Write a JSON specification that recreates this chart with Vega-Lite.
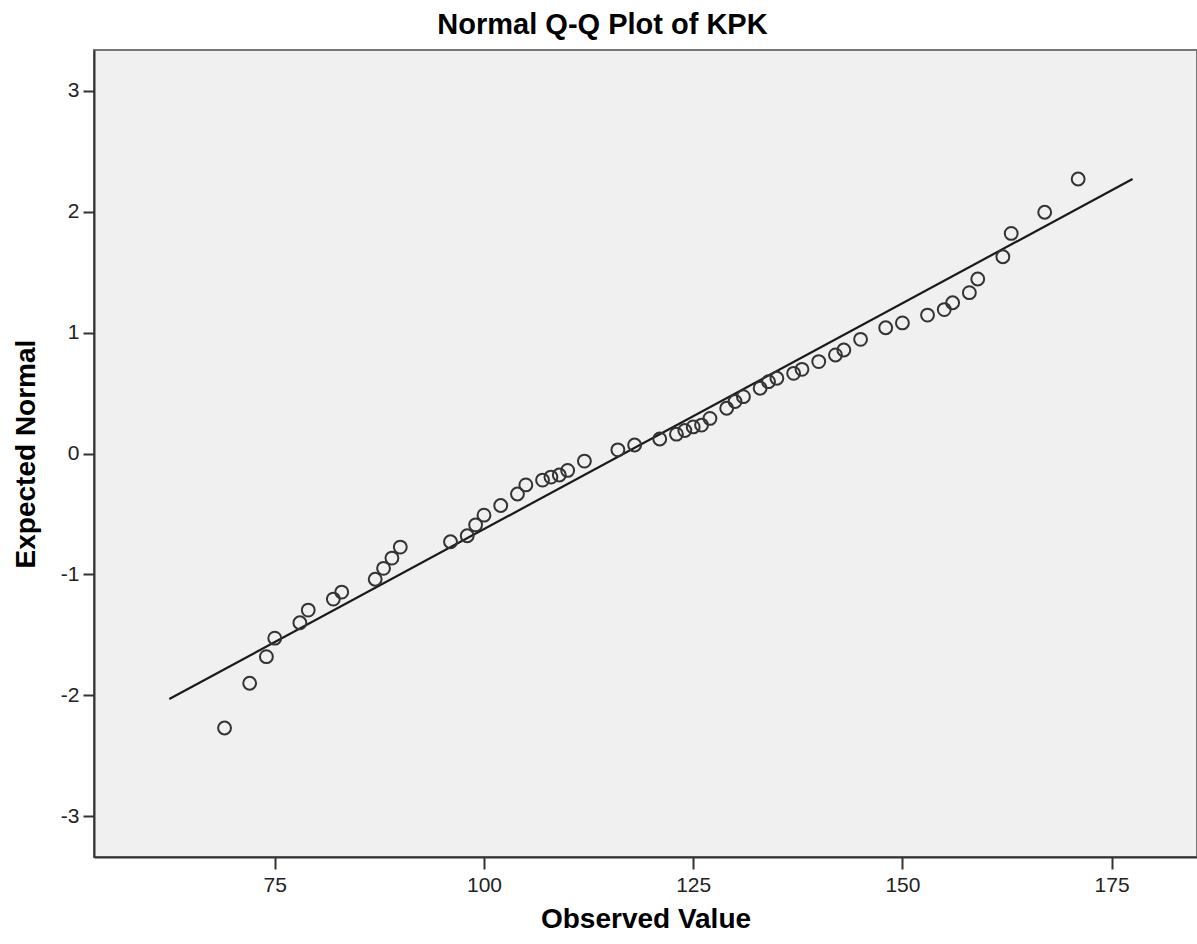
{
  "$schema": "https://vega.github.io/schema/vega-lite/v6.json",
  "width": 1103,
  "height": 807,
  "autosize": {"type": "none"},
  "padding": {"left": 94, "top": 50, "right": 0, "bottom": 87},
  "background": "white",
  "config": {
    "font": "Liberation Sans",
    "view": {"fill": "#f0f0f0", "stroke": "#777", "strokeWidth": 2}
  },
  "title": {
    "text": "Normal Q-Q Plot of KPK",
    "fontSize": 29,
    "fontWeight": "bold",
    "color": "#000",
    "anchor": "middle",
    "dx": -43,
    "offset": 10
  },
  "datasets": {
    "points": [
      {"observed": 69, "expected": -2.27},
      {"observed": 72, "expected": -1.90},
      {"observed": 74, "expected": -1.68},
      {"observed": 75, "expected": -1.527},
      {"observed": 78, "expected": -1.40},
      {"observed": 79, "expected": -1.295},
      {"observed": 82, "expected": -1.204},
      {"observed": 83, "expected": -1.146},
      {"observed": 87, "expected": -1.04},
      {"observed": 88, "expected": -0.95},
      {"observed": 89, "expected": -0.865},
      {"observed": 90, "expected": -0.774},
      {"observed": 96, "expected": -0.73},
      {"observed": 98, "expected": -0.68},
      {"observed": 99, "expected": -0.59},
      {"observed": 100, "expected": -0.51},
      {"observed": 102, "expected": -0.43},
      {"observed": 104, "expected": -0.335},
      {"observed": 105, "expected": -0.26},
      {"observed": 107, "expected": -0.22},
      {"observed": 108, "expected": -0.195},
      {"observed": 109, "expected": -0.178},
      {"observed": 110, "expected": -0.14},
      {"observed": 112, "expected": -0.063},
      {"observed": 116, "expected": 0.03},
      {"observed": 118, "expected": 0.07},
      {"observed": 121, "expected": 0.12},
      {"observed": 123, "expected": 0.16},
      {"observed": 124, "expected": 0.19},
      {"observed": 125, "expected": 0.22},
      {"observed": 126, "expected": 0.235},
      {"observed": 127, "expected": 0.29},
      {"observed": 129, "expected": 0.374},
      {"observed": 130, "expected": 0.43},
      {"observed": 131, "expected": 0.47},
      {"observed": 133, "expected": 0.54},
      {"observed": 134, "expected": 0.594},
      {"observed": 135, "expected": 0.622},
      {"observed": 137, "expected": 0.663},
      {"observed": 138, "expected": 0.696},
      {"observed": 140, "expected": 0.76},
      {"observed": 142, "expected": 0.815},
      {"observed": 143, "expected": 0.856},
      {"observed": 145, "expected": 0.944},
      {"observed": 148, "expected": 1.04},
      {"observed": 150, "expected": 1.08},
      {"observed": 153, "expected": 1.145},
      {"observed": 155, "expected": 1.19},
      {"observed": 156, "expected": 1.247},
      {"observed": 158, "expected": 1.33},
      {"observed": 159, "expected": 1.443},
      {"observed": 162, "expected": 1.627},
      {"observed": 163, "expected": 1.82},
      {"observed": 167, "expected": 1.995},
      {"observed": 171, "expected": 2.27}
    ],
    "refline": [
      {"observed": 62.4, "expected": -2.03},
      {"observed": 177.5, "expected": 2.27}
    ]
  },
  "layer": [
    {
      "data": {"name": "refline"},
      "mark": {"type": "line", "color": "#1a1a1a", "strokeWidth": 2.2},
      "encoding": {
        "x": {"field": "observed", "type": "quantitative"},
        "y": {"field": "expected", "type": "quantitative"}
      }
    },
    {
      "data": {"name": "points"},
      "mark": {"type": "point", "shape": "circle", "filled": false, "color": "#333", "strokeWidth": 2, "size": 165, "opacity": 1},
      "encoding": {
        "x": {
          "field": "observed",
          "type": "quantitative",
          "scale": {"domain": [53.4, 185.2], "nice": false, "zero": false},
          "axis": {
            "title": "Observed Value",
            "titleFontSize": 28,
            "titleFontWeight": "bold",
            "titleColor": "#000",
            "titlePadding": 10,
            "values": [75, 100, 125, 150, 175],
            "labelExpr": "'' + datum.value",
            "grid": false,
            "labelFontSize": 21,
            "labelColor": "#222",
            "labelPadding": 5,
            "tickSize": 12,
            "tickWidth": 2,
            "tickColor": "#333",
            "domainColor": "#333",
            "domainWidth": 2
          }
        },
        "y": {
          "field": "expected",
          "type": "quantitative",
          "scale": {"domain": [-3.337, 3.337], "nice": false, "zero": false},
          "axis": {
            "title": "Expected Normal",
            "titleFontSize": 28,
            "titleFontWeight": "bold",
            "titleColor": "#000",
            "titlePadding": 20,
            "values": [-3, -2, -1, 0, 1, 2, 3],
            "labelExpr": "'' + datum.value",
            "grid": false,
            "labelFontSize": 21,
            "labelColor": "#222",
            "labelPadding": 4,
            "tickSize": 11,
            "tickWidth": 2,
            "tickColor": "#333",
            "domainColor": "#333",
            "domainWidth": 2
          }
        }
      }
    }
  ]
}
